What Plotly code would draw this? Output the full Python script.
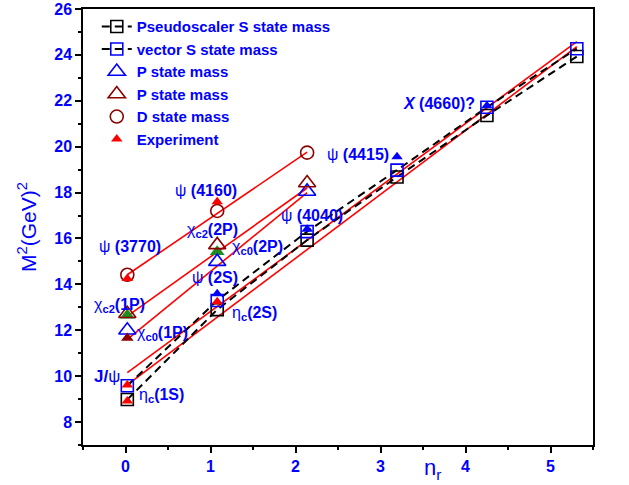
import plotly.graph_objects as go

# ---------------- data ----------------
n_S = [0, 1, 2, 3, 4, 5]
ps_mass = [8.98, 12.9, 15.93, 18.68, 21.36, 23.93]      # pseudoscalar S state
vec_mass = [9.58, 13.3, 16.3, 18.98, 21.72, 24.27]      # vector S state

n_P = [0, 1, 2]
p_blue = [12.0, 14.99, 18.05]                            # P state (blue)
p_red = [12.72, 15.72, 18.42]                            # P state (dark red)

n_D = [0, 1, 2]
d_mass = [14.42, 17.2, 19.74]                            # D state

exp_red_n = [0, 0, 0, 1, 1]
exp_red = [8.92, 9.62, 14.26, 13.24, 17.6]               # experiment (legend)
exp_blue_n = [1, 2, 3, 4]
exp_blue = [13.59, 16.4, 19.56, 21.78]
exp_green_n = [0, 1]
exp_green = [12.65, 15.42]
exp_dred_n = [0]
exp_dred = [11.66]

# straight red fit lines: (n start, n end), (M2 start, M2 end)
fit_ps_n, fit_ps_y = [0, 5], [9.62, 24.36]
fit_vec_n, fit_vec_y = [0, 5], [10.15, 24.58]
fit_c0_n, fit_c0_y = [0, 2], [11.6, 18.0]
fit_c2_n, fit_c2_y = [0, 2], [12.62, 18.2]
fit_D_n, fit_D_y = [0, 2], [14.42, 19.76]

x_ticks = [0, 1, 2, 3, 4, 5]
y_ticks = [8, 10, 12, 14, 16, 18, 20, 22, 24, 26]

label_text = ["<b>J/</b>ψ", "η<b><sub>c</sub>(1S)</b>", "χ<b><sub>c0</sub>(1P)</b>",
              "χ<b><sub>c2</sub>(1P)</b>", "ψ <b>(3770)</b>", "ψ <b>(2S)</b>",
              "η<b><sub>c</sub>(2S)</b>", "χ<b><sub>c0</sub>(2P)</b>",
              "χ<b><sub>c2</sub>(2P)</b>", "ψ <b>(4160)</b>", "ψ <b>(4040)</b>",
              "ψ <b>(4415)</b>", "<b><i>X</i> (4660)?</b>"]
label_x = [-0.06, 0.11, 0.086, -0.09, 0.03, 0.98, 1.14, 1.14, 0.95, 0.88, 2.05, 2.57, 3.47]
label_y = [9.97, 9.15, 11.85, 13.1, 15.63, 14.32, 12.75, 15.62, 16.36, 18.11, 16.98, 19.64, 21.89]
label_anchor = ["right", "left", "left", "center", "center", "center", "left", "left",
                "center", "center", "center", "center", "center"]
label_size = [17, 16, 16, 16, 16, 16, 16, 16, 16, 16, 16, 16, 16]

BLUE = "#0000FF"
DRED = "#8B0000"
RED = "#FF0000"
FONT = "Arial, Liberation Sans"

fig = go.Figure()

# red fit lines
for nx, ny in [(fit_ps_n, fit_ps_y), (fit_vec_n, fit_vec_y), (fit_c0_n, fit_c0_y),
               (fit_c2_n, fit_c2_y), (fit_D_n, fit_D_y)]:
    fig.add_trace(go.Scatter(x=nx, y=ny, mode="lines", xaxis="x2",
                             line=dict(color=RED, width=1.6), showlegend=False,
                             hoverinfo="skip"))

# green experimental (under open triangles)
fig.add_trace(go.Scatter(x=exp_green_n, y=exp_green, mode="markers", xaxis="x2",
                         marker=dict(symbol="triangle-up", size=13, color="#1E8C1E",
                                     line=dict(width=0)), showlegend=False))

fig.add_trace(go.Scatter(x=n_S, y=ps_mass, mode="lines+markers", xaxis="x2",
                         name="<b>Pseudoscaler S state mass</b>",
                         line=dict(color="black", width=2, dash="8px,5px"),
                         marker=dict(symbol="square-open", size=12, color="black",
                                     line=dict(width=1.6))))
fig.add_trace(go.Scatter(x=n_S, y=vec_mass, mode="lines+markers", xaxis="x2",
                         name="<b>vector S state mass</b>",
                         line=dict(color="black", width=2, dash="8px,5px"),
                         marker=dict(symbol="square-open", size=12, color=BLUE,
                                     line=dict(width=1.6))))
fig.add_trace(go.Scatter(x=n_P, y=p_blue, mode="markers", xaxis="x2",
                         name="<b>P state mass</b>",
                         marker=dict(symbol="triangle-up-open", size=15, color=BLUE,
                                     line=dict(width=1.6))))
fig.add_trace(go.Scatter(x=n_P, y=p_red, mode="markers", xaxis="x2",
                         name="<b>P state mass</b> ",
                         marker=dict(symbol="triangle-up-open", size=15, color=DRED,
                                     line=dict(width=1.6))))
fig.add_trace(go.Scatter(x=n_D, y=d_mass, mode="markers", xaxis="x2",
                         name="<b>D state mass</b>",
                         marker=dict(symbol="circle-open", size=13, color=DRED,
                                     line=dict(width=1.6))))
fig.add_trace(go.Scatter(x=exp_red_n, y=exp_red, mode="markers", xaxis="x2",
                         name="<b>Experiment</b>",
                         marker=dict(symbol="triangle-up", size=10, color=RED)))
fig.add_trace(go.Scatter(x=exp_blue_n, y=exp_blue, mode="markers", xaxis="x2",
                         marker=dict(symbol="triangle-up", size=10, color=BLUE),
                         showlegend=False))
fig.add_trace(go.Scatter(x=exp_dred_n, y=exp_dred, mode="markers", xaxis="x2",
                         marker=dict(symbol="triangle-up", size=11, color=DRED),
                         showlegend=False))

# dummy (invisible) trace so the visible tick axis exists
fig.add_trace(go.Scatter(x=[None], y=[None], mode="markers", showlegend=False,
                         hoverinfo="skip"))

for t, x, y, a, s in zip(label_text, label_x, label_y, label_anchor, label_size):
    fig.add_annotation(x=x, y=y, xref="x2", yref="y", text=t,
                       showarrow=False, xanchor=a, yanchor="middle",
                       font=dict(family=FONT, size=s, color=BLUE))

fig.add_annotation(x=0.685, y=-0.092, xref="paper", yref="paper", text="n<sub>r</sub>",
                   showarrow=False, xanchor="center", yanchor="bottom",
                   font=dict(family=FONT, size=22, color=BLUE))

axis_common = dict(showline=True, linecolor="black", linewidth=1.5, mirror=True,
                   showgrid=False, zeroline=False, ticks="outside", ticklen=6,
                   tickwidth=1.5, tickcolor="black", automargin=False,
                   tickfont=dict(family=FONT, size=16, color=BLUE))

fig.update_layout(
    width=629, height=485,
    margin=dict(l=83, r=36, t=9, b=40),
    plot_bgcolor="white", paper_bgcolor="white",
    font=dict(family=FONT),
    xaxis=dict(range=[-0.5, 5.5], tickvals=x_ticks,
               ticktext=["<b>%d</b>" % v for v in x_ticks],
               minor=dict(ticks="outside", ticklen=3, tickwidth=1.5, tickcolor="black",
                          dtick=0.5, tick0=0, showgrid=False),
               **axis_common),
    xaxis2=dict(range=[-0.493, 5.18], overlaying="x", visible=False),
    yaxis=dict(range=[7, 26], tickvals=y_ticks,
               ticktext=["<b>%d</b>" % v for v in y_ticks],
               title=dict(text="M<sup>2</sup>(GeV)<sup>2</sup>",
                          font=dict(family=FONT, size=21, color=BLUE),
                          standoff=12),
               minor=dict(ticks="outside", ticklen=3, tickwidth=1.5, tickcolor="black",
                          dtick=1, tick0=0, showgrid=False),
               **axis_common),
    legend=dict(x=0.027, y=0.997, xanchor="left", yanchor="top",
                bgcolor="rgba(0,0,0,0)", borderwidth=0,
                font=dict(family=FONT, size=15, color=BLUE),
                itemwidth=30, tracegroupgap=0),
    showlegend=True,
)

fig.write_html("out.html")
